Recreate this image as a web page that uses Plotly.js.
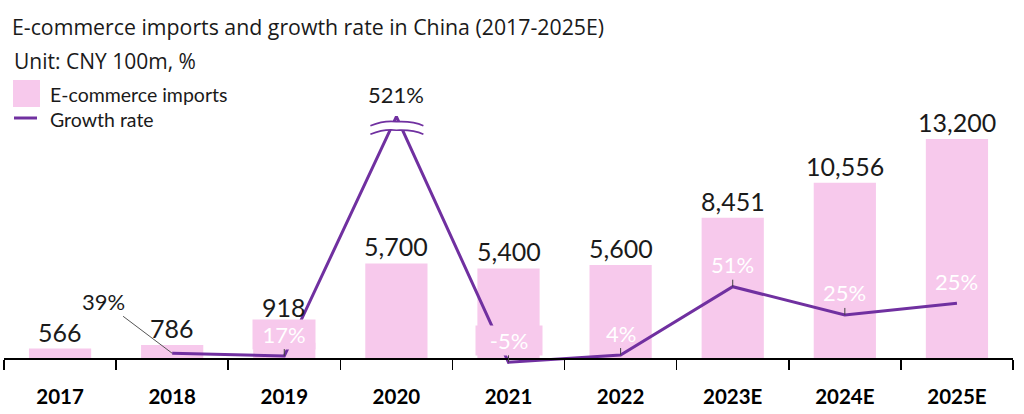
<!DOCTYPE html>
<html><head><meta charset="utf-8">
<script src="https://cdn.plot.ly/plotly-3.0.1.min.js"></script>
<style>html,body{margin:0;padding:0;background:#fff}#chart{width:1024px;height:414px}</style>
</head><body><div id="chart"></div>
<script>
// ---- data ----
const categories = ['2017', '2018', '2019', '2020', '2021', '2022', '2023E', '2024E', '2025E'];
const imports = [566, 786, 918, 5700, 5400, 5600, 8451, 10556, 13200];          // CNY 100m
const growthLabels = [null, '39%', '17%', '521%', '-5%', '4%', '51%', '25%', '25%'];
// level at which the source draws the growth line (not to scale; axis broken at 2020)
const growthLine = [null, 3.4, 1.4, 172.6, -3.1, 2.1, 51, 30.8, 39.1];

// ---- style ----
const FONT = 'Lato, "Open Sans", sans-serif';
const TFONT = '"Open Sans", Lato, sans-serif';
const PINK = '#F7C9EC';
const PURPLE = '#7030A0';
const TEXT = '#1a1a1a';

const barTrace = {
  type: 'bar', x: categories, y: imports, name: 'E-commerce imports',
  marker: {color: PINK}, showlegend: false, hoverinfo: 'skip'
};
const lineTrace = {
  type: 'scatter', mode: 'lines', x: categories, y: growthLine, yaxis: 'y2',
  name: 'Growth rate', line: {color: PURPLE, width: 3}, connectgaps: false,
  showlegend: false, hoverinfo: 'skip'
};

const annotations = [];

// bar value labels
const barLabelShift = {'2019': 36};
categories.forEach((c, i) => {
  annotations.push({
    x: i, y: imports[i], xref: 'x', yref: 'y', yanchor: 'middle',
    yshift: barLabelShift[c] || 17, showarrow: false,
    text: imports[i].toLocaleString('en-US'),
    font: {family: FONT, size: 25, color: TEXT}
  });
});

// growth-rate labels
const labelOverrides = {
  '2018': {ax: -69, ay: -52, font: {family: FONT, size: 22, color: TEXT}, arrowcolor: '#555'},
  '2019': {bgcolor: PINK, width: 58, height: 25, borderpad: 2},
  '2020': {font: {family: FONT, size: 22, color: TEXT}, arrowcolor: 'rgba(0,0,0,0)'},
  '2021': {bgcolor: PINK, width: 62, height: 25, borderpad: 2},
  '2025E': {arrowcolor: 'rgba(0,0,0,0)'}
};
categories.forEach((c, i) => {
  if (growthLabels[i] == null) return;
  annotations.push(Object.assign({
    x: i, y: growthLine[i], xref: 'x', yref: 'y2', text: growthLabels[i],
    showarrow: true, arrowhead: 0, arrowwidth: 1, arrowcolor: '#404040',
    ax: 0, ay: -22, standoff: 0,
    font: {family: FONT, size: 22, color: '#ffffff'}
  }, labelOverrides[c] || {}));
});

// subtitle
annotations.push({
  xref: 'paper', yref: 'paper', x: 0.0079, y: 1.1036, xanchor: 'left', yanchor: 'middle',
  text: 'Unit: CNY 100m, %', showarrow: false, font: {family: TFONT, size: 21, color: TEXT}
});
// legend text
annotations.push({
  xref: 'paper', yref: 'paper', x: 0.0436, y: 0.9846, xanchor: 'left', yanchor: 'middle',
  text: 'E-commerce imports', showarrow: false, font: {family: FONT, size: 19.5, color: TEXT}
});
annotations.push({
  xref: 'paper', yref: 'paper', x: 0.0436, y: 0.8946, xanchor: 'left', yanchor: 'middle',
  text: 'Growth rate', showarrow: false, font: {family: FONT, size: 19.5, color: TEXT}
});

// axis-break symbol at the 2020 peak (pixel offsets from the point, y up)
const peakIdx = 3;
const topWave = 'M-26,-9 C-16,-5 -8,-4 0,-5 C8,-5 16,-4 27,-9';
const botWave = 'M-26,-17.5 C-16,-13.5 -8,-12.5 0,-13.5 C8,-13.5 16,-12.5 27,-17.5';
const breakBase = {
  type: 'path', xref: 'x', yref: 'y2', xsizemode: 'pixel', ysizemode: 'pixel',
  xanchor: peakIdx, yanchor: growthLine[peakIdx], layer: 'above'
};
const shapes = [
  Object.assign({}, breakBase, {
    path: topWave + ' L27,-17.5 C16,-12.5 8,-13.5 0,-13.5 C-8,-12.5 -16,-13.5 -26,-17.5 Z',
    fillcolor: '#ffffff', line: {width: 0}
  }),
  Object.assign({}, breakBase, {path: topWave, line: {color: PURPLE, width: 1.6}}),
  Object.assign({}, breakBase, {path: botWave, line: {color: PURPLE, width: 1.6}}),
  // legend swatches
  {type: 'rect', xref: 'paper', yref: 'paper', x0: 0.0089, x1: 0.0357, y0: 0.9393, y1: 1.0357,
   fillcolor: PINK, line: {width: 0}},
  {type: 'line', xref: 'paper', yref: 'paper', x0: 0.0099, x1: 0.0327, y0: 0.9, y1: 0.9,
   line: {color: PURPLE, width: 3}}
];

const layout = {
  width: 1024, height: 414,
  margin: {l: 4, r: 11, t: 90, b: 44},
  paper_bgcolor: '#fff', plot_bgcolor: '#fff',
  title: {
    text: 'E-commerce imports and growth rate in China (2017-2025E)',
    font: {family: TFONT, size: 21.3, color: TEXT},
    xref: 'container', yref: 'container', x: 0.0117, xanchor: 'left', y: 0.9324, yanchor: 'middle'
  },
  bargap: 0.445,
  showlegend: false,
  hovermode: false,
  xaxis: {
    type: 'category', range: [-0.5, 8.5], autorange: false, anchor: 'free', position: 0.042857,
    showline: true, linecolor: '#000', linewidth: 1.5,
    ticks: 'outside', tickson: 'boundaries', ticklen: 10, tickwidth: 1.5, tickcolor: '#000',
    ticklabelstandoff: 20, tickangle: 0,
    tickfont: {family: FONT, size: 20.5, color: '#000', weight: 'bold'},
    showgrid: false, zeroline: false, fixedrange: true
  },
  yaxis: {range: [-723.3, 16154], autorange: false, visible: false, showgrid: false, zeroline: false, fixedrange: true},
  yaxis2: {range: [-8.584, 191.7], autorange: false, overlaying: 'y', visible: false, showgrid: false, zeroline: false, fixedrange: true},
  annotations: annotations,
  shapes: shapes
};

Plotly.newPlot('chart', [barTrace, lineTrace], layout, {displayModeBar: false, staticPlot: true});
</script>
</body></html>
